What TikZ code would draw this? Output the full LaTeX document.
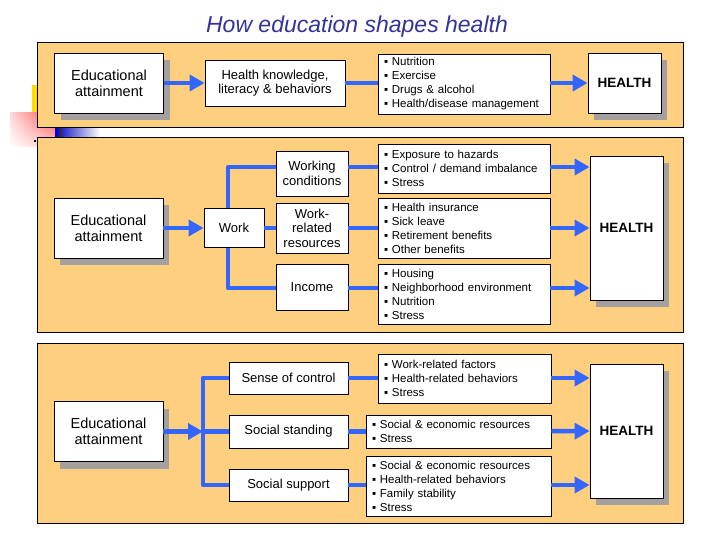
\documentclass[tikz,border=0pt]{standalone}
\usepackage{fontspec}
\setmainfont{Liberation Sans}
\usetikzlibrary{arrows.meta,shadows,shadings}
\definecolor{panel}{RGB}{255,207,128}
\definecolor{flow}{RGB}{51,102,255}
\definecolor{shadowgray}{RGB}{165,160,160}
\definecolor{titleblue}{RGB}{51,51,153}
\tikzset{
  panelbox/.style={fill=panel,draw=black,line width=1pt},
  box/.style={draw=black,fill=white,line width=0.8pt,inner sep=0pt,align=center,
    font=\fontsize{13}{14.5}\selectfont},
  boxshadow/.style={drop shadow={shadow xshift=6pt,shadow yshift=-7pt,fill=shadowgray,opacity=1}},
  edubox/.style={box,boxshadow,minimum width=109pt,minimum height=60pt,
    font=\fontsize{14.5}{16}\selectfont},
  healthbox/.style={box,boxshadow,minimum width=73pt,font=\fontsize{13.5}{15}\selectfont\bfseries},
  listbox/.style={box,align=left,inner xsep=6pt,font=\fontsize{11.5}{14}\selectfont},
  link/.style={flow,line width=4.5pt,line join=round},
  arrow/.style={link,-{Triangle[length=15pt,width=16pt]}}
}
\begin{document}
\begin{tikzpicture}[x=1pt,y=-1pt]
\useasboundingbox (0,0) rectangle (720,540);
\fill[yellow!80!orange] (32,85) rectangle (40,114);
\shade[upper left=red!15,upper right=red!70,lower left=white,lower right=red!20] (10,113) rectangle (55,147);
\shade[left color=blue!75!black,right color=white] (55,128) rectangle (100,138);
\fill[black!80] (60,128) rectangle (62,138);
\fill (34,140) rectangle (36,142);
\node[text=titleblue,font=\fontsize{23}{26}\selectfont\itshape] (title) at (357,27) {How education shapes health};
\draw[panelbox] (37,43) rectangle (683,128);
\draw[panelbox] (37,138) rectangle (683,332);
\draw[panelbox] (37,343) rectangle (683,523);

\node[edubox] (edua) at (109,83) {Educational\\attainment};
\node[box,minimum width=140pt,minimum height=46pt] (know) at (275,83) {Health knowledge,\\literacy \& behaviors};
\node[listbox,text width=160pt,minimum height=60pt] (habit) at (464,84) {▪ Nutrition\\▪ Exercise\\▪ Drugs \& alcohol\\▪ Health/disease management};
\node[healthbox,minimum height=60pt] (heala) at (624.5,83) {HEALTH};

\node[edubox] (edub) at (108.5,228) {Educational\\attainment};
\node[box,minimum width=60pt,minimum height=39pt] (work) at (234,228) {Work};
\node[box,minimum width=72pt,minimum height=45pt] (cond) at (312,173.5) {Working\\conditions};
\node[box,minimum width=72pt,minimum height=50pt] (rsrc) at (312,228) {Work-\\related\\resources};
\node[box,minimum width=72pt,minimum height=46pt] (inc) at (312,287) {Income};
\node[listbox,text width=160pt,minimum height=49pt] (expo) at (464,168.5) {▪ Exposure to hazards\\▪ Control / demand imbalance\\▪ Stress};
\node[listbox,text width=160pt,minimum height=60pt] (ins) at (464,228) {▪ Health insurance\\▪ Sick leave\\▪ Retirement benefits\\▪ Other benefits};
\node[listbox,text width=160pt,minimum height=60pt] (hous) at (464,294) {▪ Housing\\▪ Neighborhood environment\\▪ Nutrition\\▪ Stress};
\node[healthbox,minimum height=144pt] (healb) at (626.5,228) {HEALTH};

\node[edubox] (educ) at (108.5,431.5) {Educational\\attainment};
\node[box,minimum width=119pt,minimum height=32pt] (ctrl) at (288.5,378) {Sense of control};
\node[box,minimum width=119pt,minimum height=33pt] (stand) at (288.5,431.5) {Social standing};
\node[box,minimum width=119pt,minimum height=32pt] (supp) at (288.5,485) {Social support};
\node[listbox,text width=161pt,minimum height=49pt] (fact) at (464.5,378.5) {▪ Work-related factors\\▪ Health-related behaviors\\▪ Stress};
\node[listbox,text width=173pt,minimum height=33pt] (reso) at (458.5,431.5) {▪ Social \& economic resources\\▪ Stress};
\node[listbox,text width=173pt,minimum height=60pt] (fam) at (458.5,486) {▪ Social \& economic resources\\▪ Health-related behaviors\\▪ Family stability\\▪ Stress};
\node[healthbox,minimum height=134pt] (healc) at (626.5,431) {HEALTH};

\draw[arrow] (edua) -- (know);
\draw[link] (know.east) -- (know.east -| habit.west);
\draw[arrow] (habit.east |- heala) -- (heala.west);

\coordinate (busa) at (228,167);
\coordinate (busb) at (228,288);
\draw[arrow] (edub) -- (work);
\draw[link] (work.north -| busa) -- (busa) -- (busa -| cond.west);
\draw[link] (work.south -| busb) -- (busb) -- (busb -| inc.west);
\draw[link] (work) -- (rsrc);
\draw[link] (cond.east |- busa) -- (busa -| expo.west);
\draw[link] (rsrc) -- (ins);
\draw[link] (inc.east |- busb) -- (busb -| hous.west);
\draw[arrow] (expo.east |- busa) -- (busa -| healb.west);
\draw[arrow] (ins) -- (healb);
\draw[arrow] (hous.east |- busb) -- (busb -| healb.west);

\coordinate (busc) at (203,378);
\coordinate (busd) at (203,485);
\draw[arrow] (educ) -- (educ -| busc);
\draw[link] (busc -| ctrl.west) -- (busc) -- (busd) -- (busd -| supp.west);
\draw[link] (educ -| busc) -- (stand);
\draw[link] (ctrl.east) -- (ctrl.east -| fact.west);
\draw[link] (stand) -- (reso);
\draw[link] (supp.east) -- (supp.east -| fam.west);
\draw[arrow] (fact.east |- ctrl) -- (ctrl -| healc.west);
\draw[arrow] (reso) -- (healc);
\draw[arrow] (fam.east |- supp) -- (supp -| healc.west);
\end{tikzpicture}
\end{document}
